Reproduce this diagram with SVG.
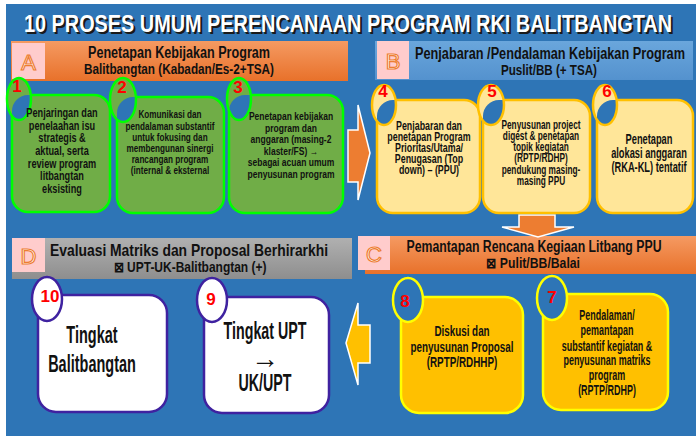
<svg xmlns="http://www.w3.org/2000/svg" width="696" height="436" viewBox="0 0 696 436">
<style>
.t{font-family:"Liberation Sans",Arial,sans-serif;font-weight:bold;fill:#111;text-anchor:middle}
.num{font-family:"Liberation Sans","Arial",sans-serif;font-weight:bold;fill:#FF0000;text-anchor:middle;font-size:17px}
.hdr{font-family:"Liberation Sans",Arial,sans-serif;font-weight:bold;fill:#111;text-anchor:middle}
.letter{font-family:"Liberation Sans","Arial",sans-serif;fill:#fff;stroke:#ED7D31;stroke-width:1.2;text-anchor:middle;font-size:22px}
.pink{fill:#FFCCCC}
.g{fill:#70AD47;stroke:#00FF00;stroke-width:2.5}
.y{fill:#FFE699;stroke:#FFC000;stroke-width:2.5}
.o{fill:#FFC000;stroke:#FFFF00;stroke-width:2.5}
.w{fill:#FFFFFF;stroke:#3F22A0;stroke-width:2.5}
.arr{stroke:#FFFFFF;stroke-width:1.5}
</style>
<defs>
<linearGradient id="og" x1="0" y1="0" x2="0" y2="1"><stop offset="0" stop-color="#F59A62"/><stop offset="1" stop-color="#E8712A"/></linearGradient>
<linearGradient id="bg2" x1="0" y1="0" x2="0" y2="1"><stop offset="0" stop-color="#6AA6DC"/><stop offset="1" stop-color="#5492CE"/></linearGradient>
<linearGradient id="gg" x1="0" y1="0" x2="0" y2="1"><stop offset="0" stop-color="#B0B0B0"/><stop offset="1" stop-color="#8E8E8E"/></linearGradient>
<clipPath id="c1"><rect x="12" y="95" width="98" height="117" rx="16"/></clipPath>
<clipPath id="c2"><rect x="117" y="97" width="107" height="116" rx="16"/></clipPath>
<clipPath id="c3"><rect x="229" y="95" width="114" height="118" rx="16"/></clipPath>
<clipPath id="c4"><rect x="377" y="100" width="103" height="113" rx="16"/></clipPath>
<clipPath id="c5"><rect x="483" y="100" width="107" height="113" rx="16"/></clipPath>
<clipPath id="c6"><rect x="597" y="100" width="96" height="113" rx="16"/></clipPath>
</defs>
<rect x="0" y="0" width="696" height="436" fill="#FFFFFF"/>
<rect x="6" y="4" width="690" height="432" fill="#2E75B6"/>

<g id="title">
<text x="350" y="34" font-family="'Liberation Sans',Arial,sans-serif" font-weight="bold" font-size="24" fill="#1a1a1a" text-anchor="middle" textLength="648" lengthAdjust="spacingAndGlyphs">10  PROSES UMUM PERENCANAAN PROGRAM RKI BALITBANGTAN</text>
<text x="348" y="32" font-family="'Liberation Sans',Arial,sans-serif" font-weight="bold" font-size="24" fill="#FFFFFF" text-anchor="middle" textLength="648" lengthAdjust="spacingAndGlyphs">10  PROSES UMUM PERENCANAAN PROGRAM RKI BALITBANGTAN</text>
</g>

<g id="header-A">
<rect x="11" y="41" width="337" height="40" fill="url(#og)"/>
<rect class="pink" x="12" y="43" width="33" height="36"/>
<text class="letter" x="28.5" y="70">A</text>
<text class="hdr" x="179" y="58" font-size="16" textLength="182" lengthAdjust="spacingAndGlyphs">Penetapan Kebijakan Program</text>
<text class="hdr" x="179" y="74" font-size="15" textLength="190" lengthAdjust="spacingAndGlyphs">Balitbangtan (Kabadan/Es-2+TSA)</text>
</g>

<g id="header-B">
<rect x="375" y="41" width="318" height="39" fill="url(#bg2)"/>
<rect class="pink" x="377" y="41" width="32" height="38"/>
<text class="letter" x="393" y="69">B</text>
<text class="hdr" x="550" y="59" font-size="16" textLength="270" lengthAdjust="spacingAndGlyphs">Penjabaran /Pendalaman Kebijakan Program</text>
<text class="hdr" x="549" y="75" font-size="15" textLength="96" lengthAdjust="spacingAndGlyphs">Puslit/BB (+ TSA)</text>
</g>

<g id="header-C">
<rect x="365" y="236" width="331" height="38" fill="url(#og)"/>
<rect class="pink" x="358" y="236" width="32" height="34"/>
<text class="letter" x="374" y="262">C</text>
<text class="hdr" x="534" y="252" font-size="16" textLength="255" lengthAdjust="spacingAndGlyphs">Pemantapan Rencana Kegiaan Litbang PPU</text>
<text class="hdr" x="533" y="268" font-size="14" textLength="94" lengthAdjust="spacingAndGlyphs">⊠  Pulit/BB/Balai</text>
</g>

<g id="header-D">
<rect x="12" y="238" width="340" height="41" fill="url(#gg)"/>
<rect class="pink" x="12" y="238" width="33" height="34"/>
<text class="letter" x="28.5" y="264">D</text>
<text class="hdr" x="189" y="256" font-size="17" textLength="278" lengthAdjust="spacingAndGlyphs">Evaluasi Matriks dan Proposal Berhirarkhi</text>
<text class="hdr" x="190" y="272" font-size="14" textLength="153" lengthAdjust="spacingAndGlyphs">⊠  UPT-UK-Balitbangtan (+)</text>
</g>

<g id="connectors">
<path class="arr" d="M348,130 L358,130 L358,105 L370,153 L358,200 L358,182 L348,182 Z" fill="#ED7D31"/>
<path class="arr" d="M519,215 L555,215 L555,227 L574,227 L538,237 L502,227 L519,227 Z" fill="#ED7D31"/>
<path class="arr" d="M370,325 L358,325 L358,303 L346,343 L358,385 L358,363 L370,363 Z" fill="#FFC000"/>
</g>

<g id="node-1">
<rect class="g" x="12" y="95" width="98" height="117" rx="16"/>
<ellipse cx="19" cy="99" rx="12" ry="21" fill="#70AD47"/>
<ellipse cx="19" cy="99" rx="12" ry="21" fill="#2E75B6" clip-path="url(#c1)"/>
<ellipse cx="19" cy="99" rx="12" ry="21" fill="none" stroke="#00FF00" stroke-width="2.5"/>
<text class="num" x="17" y="92">1</text>
<text class="t" font-size="13.5" transform="translate(62,0) scale(0.68,1)"><tspan x="0" y="117">Penjaringan dan</tspan><tspan x="0" y="130">penelaahan isu</tspan><tspan x="0" y="142">strategis &amp;</tspan><tspan x="0" y="155">aktual, serta</tspan><tspan x="0" y="168">review program</tspan><tspan x="0" y="180">litbangtan</tspan><tspan x="0" y="193">eksisting</tspan></text>
</g>

<g id="node-2">
<rect class="g" x="117" y="97" width="107" height="116" rx="16"/>
<ellipse cx="123" cy="100" rx="13" ry="22" fill="#70AD47"/>
<ellipse cx="123" cy="100" rx="13" ry="22" fill="#2E75B6" clip-path="url(#c2)"/>
<ellipse cx="123" cy="100" rx="13" ry="22" fill="none" stroke="#00FF00" stroke-width="2.5"/>
<text class="num" x="122" y="93">2</text>
<text class="t" font-size="11.5" transform="translate(170,0) scale(0.71,1)"><tspan x="0" y="118">Komunikasi dan</tspan><tspan x="0" y="130">pendalaman substantif</tspan><tspan x="0" y="141">untuk fokusing dan</tspan><tspan x="0" y="152">membengunan sinergi</tspan><tspan x="0" y="163">rancangan program</tspan><tspan x="0" y="174">(internal &amp; eksternal</tspan></text>
</g>

<g id="node-3">
<rect class="g" x="229" y="95" width="114" height="118" rx="16"/>
<ellipse cx="239" cy="99" rx="12" ry="21" fill="#70AD47"/>
<ellipse cx="239" cy="99" rx="12" ry="21" fill="#2E75B6" clip-path="url(#c3)"/>
<ellipse cx="239" cy="99" rx="12" ry="21" fill="none" stroke="#00FF00" stroke-width="2.5"/>
<text class="num" x="238" y="93">3</text>
<text class="t" font-size="11.5" transform="translate(291,0) scale(0.74,1)"><tspan x="0" y="120">Penetapan kebijakan</tspan><tspan x="0" y="132">program dan</tspan><tspan x="0" y="143">anggaran (masing-2</tspan><tspan x="0" y="155">klaster/FS) →</tspan><tspan x="0" y="166">sebagai acuan umum</tspan><tspan x="0" y="178">penyusunan program</tspan></text>
</g>

<g id="node-4">
<rect class="y" x="377" y="100" width="103" height="113" rx="16"/>
<ellipse cx="384" cy="105" rx="12" ry="20" fill="#FFE699"/>
<ellipse cx="384" cy="105" rx="12" ry="20" fill="#2E75B6" clip-path="url(#c4)"/>
<ellipse cx="384" cy="105" rx="12" ry="20" fill="none" stroke="#FFC000" stroke-width="2.5"/>
<text class="num" x="383" y="97">4</text>
<text class="t" font-size="12" transform="translate(429,0) scale(0.74,1)"><tspan x="0" y="130">Penjabaran dan</tspan><tspan x="0" y="141">penetapan Program</tspan><tspan x="0" y="152">Prioritas/Utama/</tspan><tspan x="0" y="163">Penugasan (Top</tspan><tspan x="0" y="174">down) – (PPU)</tspan></text>
</g>

<g id="node-5">
<rect class="y" x="483" y="100" width="107" height="113" rx="16"/>
<ellipse cx="491" cy="105" rx="13" ry="20" fill="#FFE699"/>
<ellipse cx="491" cy="105" rx="13" ry="20" fill="#2E75B6" clip-path="url(#c5)"/>
<ellipse cx="491" cy="105" rx="13" ry="20" fill="none" stroke="#FFC000" stroke-width="2.5"/>
<text class="num" x="492" y="97">5</text>
<text class="t" font-size="12" transform="translate(541,0) scale(0.69,1)"><tspan x="0" y="129">Penyusunan project</tspan><tspan x="0" y="140">digest &amp; penetapan</tspan><tspan x="0" y="151">topik kegiatan</tspan><tspan x="0" y="162">(RPTP/RDHP)</tspan><tspan x="0" y="174">pendukung masing-</tspan><tspan x="0" y="185">masing PPU</tspan></text>
</g>

<g id="node-6">
<rect class="y" x="597" y="100" width="96" height="113" rx="16"/>
<ellipse cx="605" cy="105" rx="12" ry="20" fill="#FFE699"/>
<ellipse cx="605" cy="105" rx="12" ry="20" fill="#2E75B6" clip-path="url(#c6)"/>
<ellipse cx="605" cy="105" rx="12" ry="20" fill="none" stroke="#FFC000" stroke-width="2.5"/>
<text class="num" x="607" y="97">6</text>
<text class="t" font-size="14.5" transform="translate(649,0) scale(0.64,1)"><tspan x="0" y="144">Penetapan</tspan><tspan x="0" y="158">alokasi anggaran</tspan><tspan x="0" y="172">(RKA-KL) tentatif</tspan></text>
</g>

<g id="node-7">
<rect class="o" x="543" y="294" width="125" height="116" rx="18"/>
<ellipse cx="552" cy="298" rx="15" ry="22" fill="#2E75B6" stroke="#FFFF00" stroke-width="2.5"/>
<text class="num" x="552" y="303" font-size="19">7</text>
<text class="t" font-size="14" transform="translate(607,0) scale(0.64,1)"><tspan x="0" y="320">Pendalaman/</tspan><tspan x="0" y="335">pemantapan</tspan><tspan x="0" y="351">substantif kegiatan &amp;</tspan><tspan x="0" y="365">penyusunan matriks</tspan><tspan x="0" y="380">program</tspan><tspan x="0" y="395">(RPTP/RDHP)</tspan></text>
</g>

<g id="node-8">
<rect class="o" x="401" y="297" width="122" height="116" rx="18"/>
<ellipse cx="408" cy="300" rx="15" ry="22" fill="#2E75B6" stroke="#FFFF00" stroke-width="2.5"/>
<text class="num" x="405" y="307" font-size="19">8</text>
<text class="t" font-size="14.5" transform="translate(462,0) scale(0.68,1)"><tspan x="0" y="336">Diskusi dan</tspan><tspan x="0" y="352">penyusunan Proposal</tspan><tspan x="0" y="367">(RPTP/RDHHP)</tspan></text>
</g>

<g id="node-9">
<rect class="w" x="204" y="297" width="125" height="116" rx="18"/>
<ellipse cx="212" cy="300" rx="15" ry="22" fill="#FFFFFF" stroke="#3F22A0" stroke-width="2.5"/>
<text class="num" x="211" y="305">9</text>
<text class="t" font-size="23" transform="translate(265,0) scale(0.62,1)"><tspan x="0" y="339">Tingkat UPT</tspan><tspan x="0" y="391">UK/UPT</tspan></text>
<text class="t" font-size="28" x="265" y="368">→</text>
</g>

<g id="node-10">
<rect class="w" x="38" y="295" width="129" height="117" rx="18"/>
<ellipse cx="47" cy="299" rx="15" ry="22" fill="#FFFFFF" stroke="#3F22A0" stroke-width="2.5"/>
<text class="num" x="50" y="302">10</text>
<text class="t" font-size="23" transform="translate(92,0) scale(0.63,1)"><tspan x="0" y="343">Tingkat</tspan><tspan x="0" y="372">Balitbangtan</tspan></text>
</g>
</svg>
